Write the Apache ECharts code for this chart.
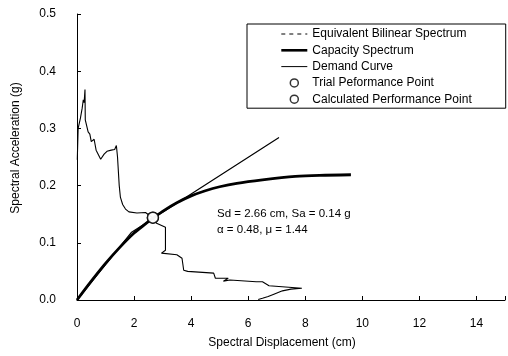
<!DOCTYPE html>
<html>
<head>
<meta charset="utf-8">
<script src="https://cdn.jsdelivr.net/npm/echarts@6/dist/echarts.min.js"></script>
<style>
  html, body { margin: 0; padding: 0; background: #fff; }
  #chart-container { width: 508px; height: 356px; }
</style>
</head>
<body>
<div id="chart-container"></div>
<script>
// capacity spectrum (Sd cm, Sa g)
var capacity = [
  [0, 0], [0.5, 0.033], [1, 0.064], [1.5, 0.092], [2, 0.117], [2.4, 0.133],
  [2.66, 0.143], [3, 0.155], [3.5, 0.17], [4, 0.182], [4.5, 0.191], [5, 0.198],
  [5.6, 0.204], [6.5, 0.21], [7.65, 0.216], [8.5, 0.218], [9.6, 0.219]
];

// equivalent bilinear spectrum
var bilinear = [[0, 0], [1.9, 0.118], [7.08, 0.284]];

// demand curve
var demand = [
  [0.01, 0.245], [0.04, 0.3], [0.12, 0.318], [0.18, 0.335], [0.22, 0.35],
  [0.25, 0.345], [0.28, 0.368], [0.29, 0.315], [0.39, 0.294], [0.45, 0.29],
  [0.5, 0.277], [0.6, 0.281], [0.67, 0.262], [0.79, 0.25], [0.83, 0.246],
  [0.95, 0.255], [1.05, 0.26], [1.2, 0.262], [1.32, 0.263], [1.38, 0.27],
  [1.42, 0.25], [1.47, 0.248], [1.48, 0.2], [1.52, 0.18], [1.6, 0.167],
  [1.7, 0.159], [1.82, 0.154], [2.1, 0.152], [2.4, 0.153], [2.62, 0.145],
  [2.79, 0.134], [3.1, 0.127], [3.1, 0.087], [2.96, 0.082], [3.5, 0.079],
  [3.68, 0.073], [3.74, 0.052], [3.88, 0.05], [4.79, 0.047], [4.85, 0.038],
  [5.3, 0.038], [5.13, 0.033], [5.36, 0.035], [6.28, 0.032], [6.5, 0.032],
  [6.73, 0.025], [7.88, 0.0205], [7.5, 0.019], [7.2, 0.016], [6.9, 0.01],
  [6.7, 0.006], [6.5, 0.003], [6.35, 0.001]
];

var trialPoint = [[2.66, 0.144]];
var calcPoint = [[2.66, 0.144]];

var xTicks = [0, 2, 4, 6, 8, 10, 12, 14];
var yTicks = ["0.0", "0.1", "0.2", "0.3", "0.4", "0.5"];

var legendNames = [
  "Equivalent Bilinear Spectrum",
  "Capacity Spectrum",
  "Demand Curve",
  "Trial Peformance Point",
  "Calculated Performance Point"
];

var FONT = "'Liberation Sans', Arial, sans-serif";

var dom = document.getElementById("chart-container");
var myChart = echarts.init(dom, null, { renderer: "canvas" });

var circleStyle = { color: "#fff", borderColor: "#000", borderWidth: 1.5 };
var noMarker = { opacity: 0 };

var option = {
  animation: false,
  backgroundColor: "#fff",
  textStyle: { fontFamily: FONT, color: "#000" },
  grid: { left: 77, right: -6, top: 14, bottom: 56, containLabel: false },
  legend: {
    orient: "vertical",
    left: 247,
    top: 24,
    padding: [4, 34, 3, 33],
    borderColor: "#000",
    borderWidth: 1,
    itemWidth: 26,
    itemHeight: 8,
    itemGap: 4.3,
    selectedMode: false,
    textStyle: { fontFamily: FONT, fontSize: 12, color: "#000", lineHeight: 12 },
    data: [
      { name: legendNames[0], itemStyle: noMarker, lineStyle: { type: [4, 4], width: 1, color: "#000" } },
      { name: legendNames[1], itemStyle: noMarker, lineStyle: { type: "solid", width: 2.6, color: "#000" } },
      { name: legendNames[2], itemStyle: noMarker, lineStyle: { type: "solid", width: 1, color: "#000" } },
      { name: legendNames[3], icon: "circle", itemStyle: circleStyle },
      { name: legendNames[4], icon: "circle", itemStyle: circleStyle }
    ]
  },
  xAxis: {
    type: "value",
    min: 0,
    max: 15,
    interval: 2,
    name: "Spectral Displacement (cm)",
    nameLocation: "middle",
    nameGap: 37,
    nameTextStyle: { fontFamily: FONT, fontSize: 12, color: "#000", padding: [0, 18, 0, 0] },
    axisLine: { lineStyle: { color: "#000", width: 1 } },
    axisTick: { inside: true, length: 4, lineStyle: { color: "#000" } },
    axisLabel: {
      margin: 18,
      fontFamily: FONT,
      fontSize: 12,
      color: "#000",
      formatter: function (v) { return xTicks.indexOf(v) >= 0 ? String(v) : ""; }
    },
    splitLine: { show: false }
  },
  yAxis: {
    type: "value",
    min: 0,
    max: 0.5,
    interval: 0.1,
    name: "Spectral Acceleration (g)",
    nameLocation: "middle",
    nameGap: 55,
    nameTextStyle: { fontFamily: FONT, fontSize: 12, color: "#000", padding: [0, 0, 0, 18] },
    axisLine: { show: true, lineStyle: { color: "#000", width: 1 } },
    axisTick: { show: true, inside: true, length: 4, lineStyle: { color: "#000" } },
    axisLabel: {
      margin: 21,
      fontFamily: FONT,
      fontSize: 12,
      color: "#000",
      formatter: function (v) { return yTicks[Math.round(v * 10)]; }
    },
    splitLine: { show: false }
  },
  series: [
    {
      name: legendNames[0],
      type: "line",
      data: bilinear,
      symbol: "none",
      itemStyle: { color: "#000" },
      lineStyle: { color: "#000", width: 1.2 },
      z: 2
    },
    {
      name: legendNames[1],
      type: "line",
      data: capacity,
      symbol: "none",
      smooth: 0.3,
      itemStyle: { color: "#000" },
      lineStyle: { color: "#000", width: 2.8 },
      z: 3
    },
    {
      name: legendNames[2],
      type: "line",
      data: demand,
      symbol: "none",
      itemStyle: { color: "#000" },
      lineStyle: { color: "#000", width: 1.1 },
      z: 2
    },
    {
      name: legendNames[3],
      type: "scatter",
      data: trialPoint,
      symbol: "circle",
      symbolSize: 11,
      itemStyle: circleStyle,
      z: 5
    },
    {
      name: legendNames[4],
      type: "scatter",
      data: calcPoint,
      symbol: "circle",
      symbolSize: 11,
      itemStyle: circleStyle,
      z: 6
    }
  ],
  graphic: [
    {
      type: "text",
      left: 217,
      top: 208,
      style: { text: "Sd = 2.66 cm, Sa = 0.14 g", fontFamily: FONT, fontSize: 11.5, fill: "#000" }
    },
    {
      type: "text",
      left: 217,
      top: 224,
      style: { text: "\u03b1 = 0.48, \u03bc = 1.44", fontFamily: FONT, fontSize: 11.5, fill: "#000" }
    }
  ]
};

myChart.setOption(option);
window.addEventListener("resize", myChart.resize);
</script>
</body>
</html>
